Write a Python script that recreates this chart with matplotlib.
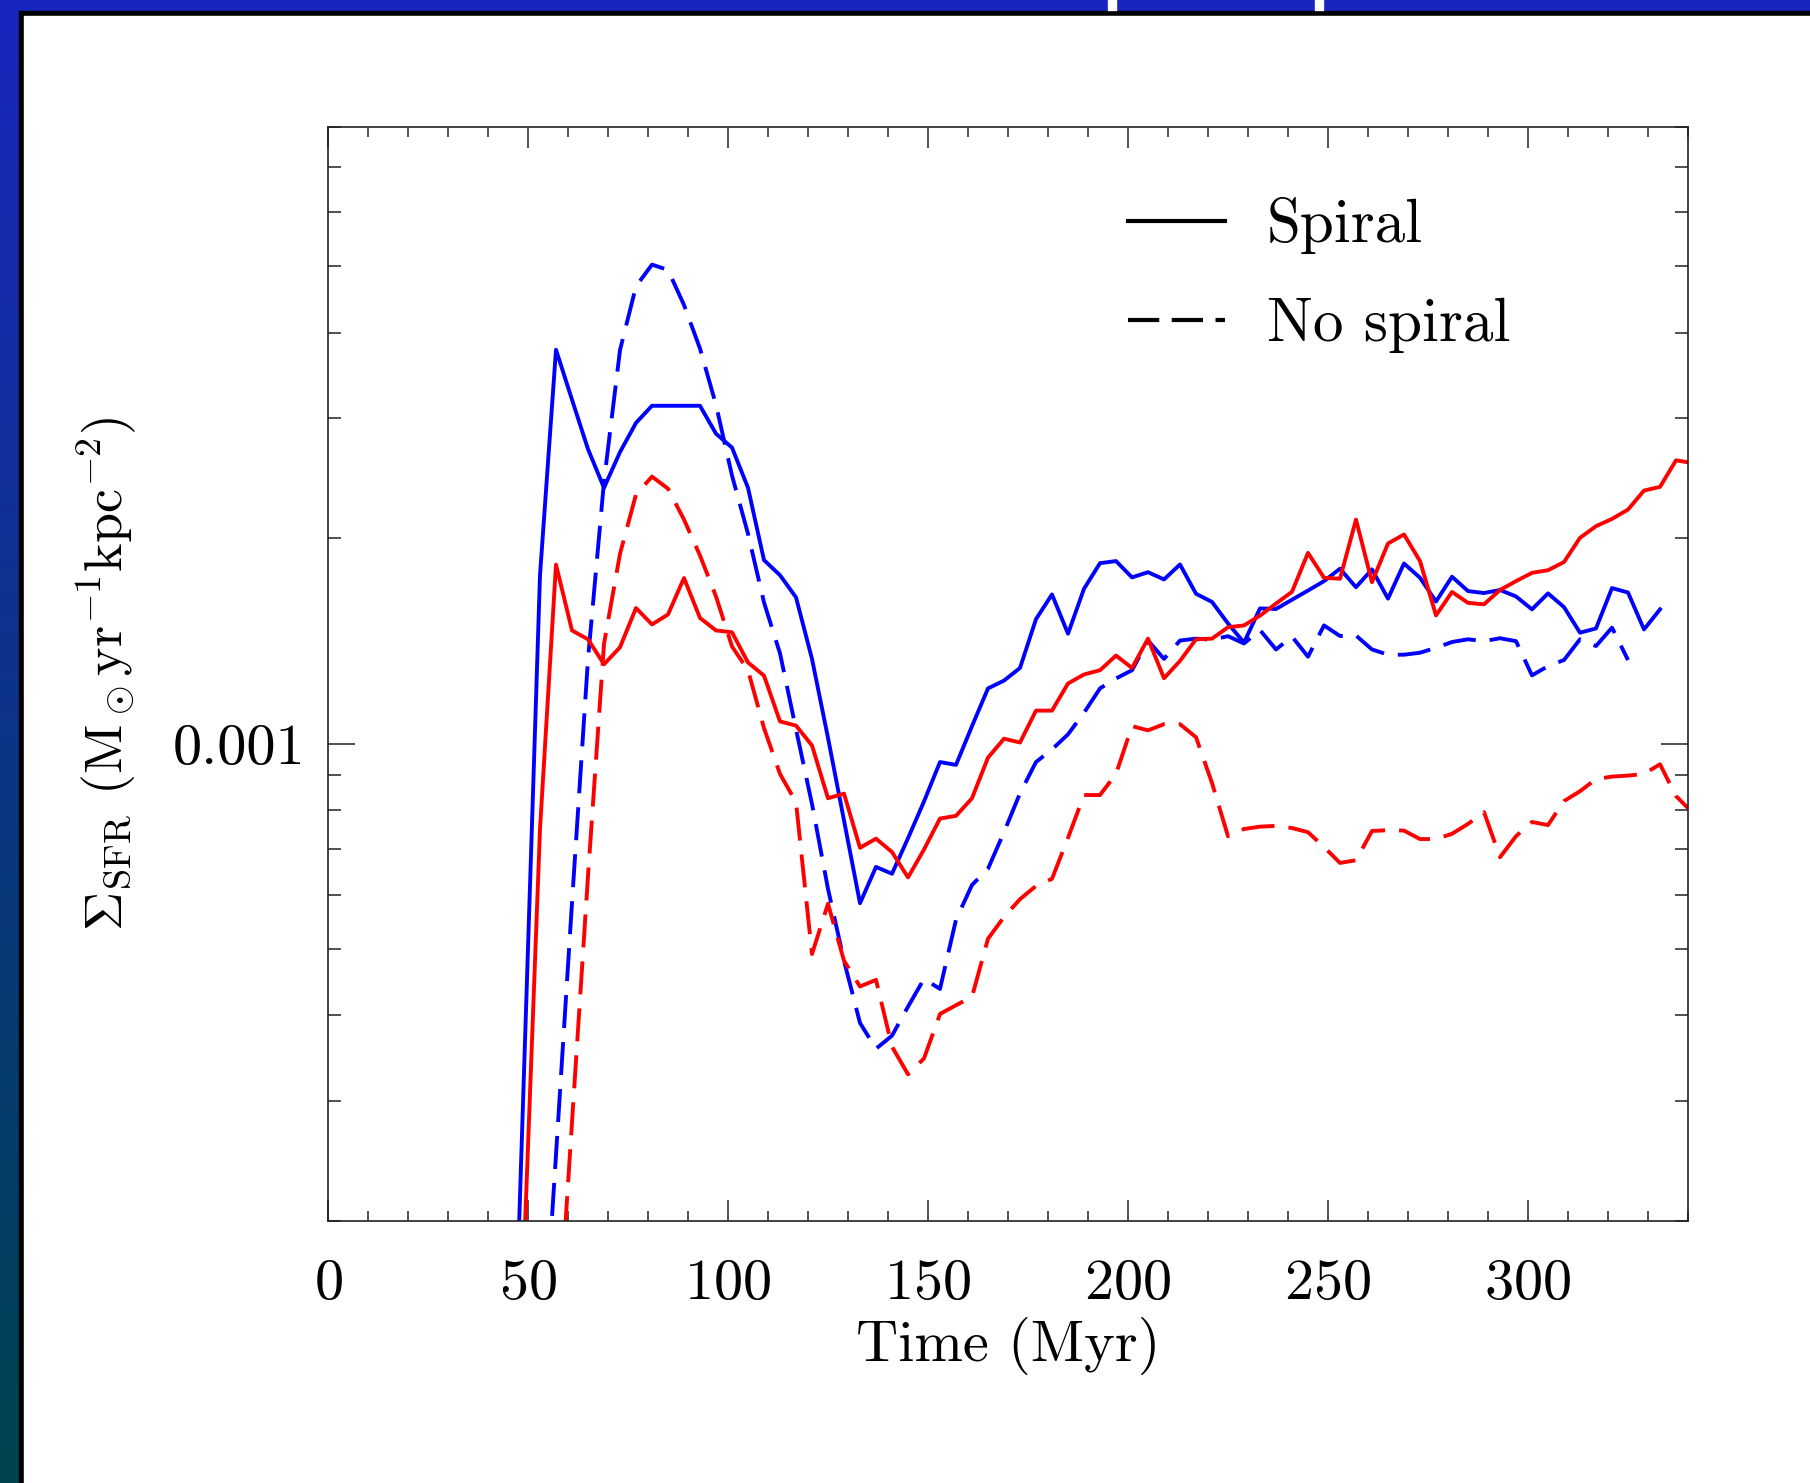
import numpy as np
import matplotlib
matplotlib.use("Agg")
import matplotlib.pyplot as plt
from matplotlib import ticker
from matplotlib.lines import Line2D
from matplotlib.patches import Rectangle

plt.rcParams['font.family'] = ['cmr10', 'DejaVu Serif']
plt.rcParams['mathtext.fontset'] = 'cm'
plt.rcParams['axes.formatter.use_mathtext'] = True

nan = np.nan

# time in Myr (one output every 4 Myr)
time = [45, 49, 53, 57, 61, 65, 69, 73, 77, 81, 85, 89, 93, 97, 101, 105, 109,
        113, 117, 121, 125, 129, 133, 137, 141, 145, 149, 153, 157, 161, 165,
        169, 173, 177, 181, 185, 189, 193, 197, 201, 205, 209, 213, 217, 221,
        225, 229, 233, 237, 241, 245, 249, 253, 257, 261, 265, 269, 273, 277,
        281, 285, 289, 293, 297, 301, 305, 309, 313, 317, 321, 325, 329, 333,
        337, 341]

# SFR surface density, units of 1e-3 Msun/yr/kpc^2
blue_spiral = [0.062, 0.33, 1.765, 3.775, 3.19, 2.70, 2.37, 2.673, 2.95, 3.125,
               3.125, 3.125, 3.125, 2.844, 2.714, 2.37, 1.857, 1.765, 1.638,
               1.331, 1.02, 0.772, 0.584, 0.66, 0.645, 0.727, 0.823, 0.940,
               0.931, 1.061, 1.205, 1.237, 1.291, 1.522, 1.654, 1.449, 1.686,
               1.838, 1.851, 1.752, 1.783, 1.740, 1.830, 1.658, 1.613, 1.50,
               1.406, 1.578, 1.575, 1.625, 1.676, 1.73, 1.804, 1.695, 1.80,
               1.631, 1.836, 1.750, 1.615, 1.756, 1.673, 1.662, 1.679, 1.643,
               1.573, 1.66, 1.585, 1.454, 1.475, 1.69, 1.665, 1.47, 1.573,
               nan, nan]
blue_nospiral = [nan, nan, 0.108, 0.25, 0.585, 1.33, 2.42, 3.77, 4.675, 5.03,
                 4.94, 4.39, 3.79, 3.135, 2.47, 2.03, 1.61, 1.356, 1.05, 0.816,
                 0.613, 0.481, 0.390, 0.3575, 0.3736, 0.412, 0.4525, 0.4374,
                 0.5524, 0.621, 0.656, 0.742, 0.846, 0.940, 0.981, 1.032,
                 1.110, 1.205, 1.246, 1.281, 1.416, 1.331, 1.416, 1.425, 1.42,
                 1.437, 1.402, 1.467, 1.374, 1.435, 1.341, 1.490, 1.438, 1.44,
                 1.374, 1.35, 1.35, 1.359, 1.382, 1.409, 1.422, 1.413, 1.427,
                 1.413, 1.259, 1.299, 1.326, 1.422, 1.39, 1.479, 1.326, nan,
                 nan, nan, nan]
red_spiral = [nan, 0.18, 0.75, 1.829, 1.465, 1.422, 1.307, 1.384, 1.58, 1.495,
              1.546, 1.748, 1.528, 1.465, 1.456, 1.315, 1.258, 1.078, 1.063,
              0.994, 0.832, 0.845, 0.704, 0.726, 0.694, 0.637, 0.700, 0.777,
              0.784, 0.832, 0.954, 1.017, 1.004, 1.118, 1.118, 1.225, 1.263,
              1.281, 1.346, 1.291, 1.425, 1.247, 1.322, 1.422, 1.425, 1.481,
              1.490, 1.54, 1.604, 1.669, 1.903, 1.75, 1.744, 2.129, 1.724,
              1.964, 2.025, 1.851, 1.541, 1.668, 1.608, 1.60, 1.679, 1.73,
              1.779, 1.795, 1.845, 2.002, 2.082, 2.134, 2.202, 2.348, 2.377,
              2.6, 2.577]
red_nospiral = [nan, nan, nan, 0.121, 0.279, 0.64, 1.40, 1.897, 2.317, 2.461,
                2.363, 2.129, 1.886, 1.643, 1.388, 1.281, 1.054, 0.903, 0.821,
                0.492, 0.583, 0.481, 0.441, 0.451, 0.36, 0.328, 0.346, 0.402,
                0.414, 0.426, 0.518, 0.5575, 0.592, 0.619, 0.634, 0.728, 0.841,
                0.841, 0.903, 1.061, 1.046, 1.068, 1.068, 1.022, 0.876, 0.732,
                0.75, 0.756, 0.758, 0.7525, 0.742, 0.706, 0.669, 0.675, 0.745,
                0.747, 0.746, 0.725, 0.725, 0.738, 0.763, 0.794, 0.682, 0.732,
                0.768, 0.760, 0.824, 0.852, 0.8875, 0.895, 0.898, 0.903, 0.933,
                0.838, 0.794]

legend_labels = ["Spiral", "No spiral"]

W, H = 1810, 1483
fig = plt.figure(figsize=(W / 100, H / 100), dpi=100)

# slide background: blue gradient border with a black drop shadow
bg = fig.add_axes([0, 0, 1, 1], zorder=-10)
top = np.array([0.094, 0.149, 0.745])
bottom = np.array([0.0, 0.262, 0.31])
frac = np.linspace(0, 1, 256)[:, None, None]
grad = top * (1 - frac) + bottom * frac
bg.imshow(grad, extent=[0, W, H, 0], aspect='auto')
bg.add_patch(Rectangle((19, 11), W, H, color='black'))
bg.add_patch(Rectangle((24, 16), W, H, color='white'))
bg.add_patch(Rectangle((1108, 0), 8, 10, color='white'))
bg.add_patch(Rectangle((1315, 0), 8, 10, color='white'))
bg.set_xlim(0, W)
bg.set_ylim(H, 0)
bg.axis('off')

ax = fig.add_axes([328 / W, 1 - 1221 / H, 1360 / W, 1094 / H])
ax.set_facecolor('none')

lw = 2.8
dash = (0, (8.5, 3.6))
scale = 1e-3
ax.plot(time, np.array(blue_spiral) * scale, color='#0000ff', lw=lw)
ax.plot(time, np.array(blue_nospiral) * scale, color='#0000ff', lw=lw, ls=dash)
ax.plot(time, np.array(red_spiral) * scale, color='#ff0000', lw=lw)
ax.plot(time, np.array(red_nospiral) * scale, color='#ff0000', lw=lw, ls=dash)

ax.set_yscale('log')
ax.set_xlim(0, 340)
ax.set_ylim(2e-4, 8e-3)

ax.xaxis.set_major_locator(ticker.MultipleLocator(50))
ax.xaxis.set_minor_locator(ticker.MultipleLocator(10))
ax.yaxis.set_major_locator(ticker.LogLocator(base=10))
ax.yaxis.set_minor_locator(ticker.LogLocator(base=10, subs=np.arange(2, 10)))
ax.yaxis.set_major_formatter(ticker.FuncFormatter(lambda v, p: f"{v:g}"))
ax.yaxis.set_minor_formatter(ticker.NullFormatter())

ax.tick_params(which='both', direction='in', top=True, right=True,
               width=1.1, color='#222222', labelsize=42)
ax.tick_params(axis='x', which='major', length=15, pad=27)
ax.tick_params(axis='x', which='minor', length=7.5)
ax.tick_params(axis='y', which='major', length=19.5, pad=16)
ax.tick_params(axis='y', which='minor', length=9.7)
for sp in ax.spines.values():
    sp.set_linewidth(1.2)
    sp.set_color('#222222')

ax.set_xlabel("Time (Myr)", fontsize=42)
ax.xaxis.set_label_coords(0.5, -0.088)
ax.set_ylabel(r"$\Sigma_{\rm SFR}$ (M$_\odot$yr$^{-1}$kpc$^{-2}$)", fontsize=39)
ax.yaxis.set_label_coords(-0.14, 0.5)

handles = [Line2D([], [], color='black', lw=3.0),
           Line2D([], [], color='black', lw=3.0, ls=(0, (7.5, 3)))]
ax.legend(handles, legend_labels, loc='upper left', bbox_to_anchor=(0.588, 0.936),
          frameon=False, fontsize=44, handlelength=1.6, handletextpad=0.68,
          labelspacing=0.72, borderpad=0, borderaxespad=0)

fig.savefig("out.png", dpi=100)
